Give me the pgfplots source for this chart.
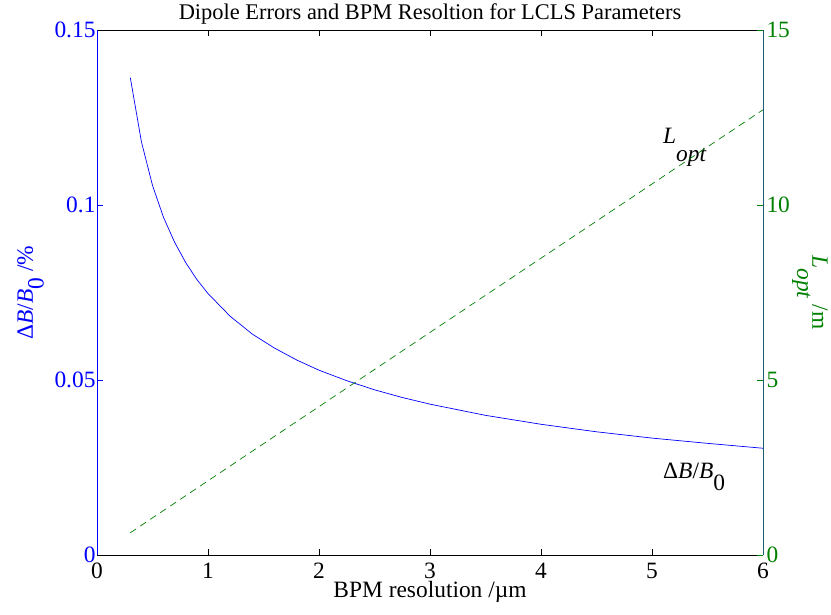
\documentclass[border=0pt]{standalone}
\usepackage{fontspec}
\setmainfont{Liberation Serif}
\usepackage{pgfplots}
\pgfplotsset{compat=1.18}

\definecolor{mblue}{rgb}{0,0,1}
\definecolor{mgreen}{rgb}{0,0.5,0}
\definecolor{mteal}{rgb}{0.1,0.37,0.45}

\newcommand{\dn}[2]{\raisebox{-#1}{#2}}
\newcommand{\fs}{\fontsize{23.5}{28}\selectfont}

\begin{document}
\begin{tikzpicture}
\path[use as bounding box] (-97bp,-60bp) rectangle (734bp,555bp);
\begin{axis}[
  scale only axis, width=666bp, height=525bp,
  xmin=0, xmax=6, ymin=0, ymax=0.15,
  separate axis lines,
  every outer x axis line/.append style={black, line width=0.8bp},
  every outer y axis line/.append style={mblue, line width=0.8bp},
  tick align=inside, major tick length=6bp,
  xtick={0,1,2,3,4,5,6}, xtick pos=both,
  xticklabels={0,1,2,3,4,5,6},
  ytick={0,0.05,0.1,0.15}, ytick pos=left,
  yticklabels={0,0.05,0.1,0.15},
  x tick style={black, line width=0.6bp},
  y tick style={mblue, line width=0.6bp},
  xticklabel style={font=\fs, anchor=base, yshift=-23bp},
  yticklabel style={font=\fs, text=mblue, xshift=2bp},
  /pgf/number format/assume math mode=true,
  xlabel={BPM resolution /µm},
  xlabel style={font=\fs, at={(axis description cs:0.5,-0.0819)}, anchor=base},
  ylabel={Δ\textit{B}/\textit{B}\dn{0.45em}{0} /\%},
  ylabel style={font=\fs, text=mblue, at={(axis description cs:-0.0961,0.5)}, anchor=base},
  title={Dipole Errors and BPM Resoltion for LCLS Parameters},
  title style={font=\fontsize{22.5}{27}\selectfont, at={(axis description cs:0.5,1)}, anchor=base, yshift=5bp},
  clip=false,
]
\addplot[mblue, line width=0.7bp] coordinates {
 (0.3,0.1364) (0.4,0.1181) (0.5,0.1056) (0.6,0.0964) (0.7,0.0893) (0.8,0.0835)
 (0.9,0.0787) (1.0,0.0747) (1.2,0.0682) (1.4,0.0631) (1.6,0.0591) (1.8,0.0557)
 (2.0,0.0528) (2.25,0.0498) (2.5,0.0472) (2.75,0.0450) (3.0,0.0431) (3.5,0.0399)
 (4.0,0.03735) (4.5,0.0352) (5.0,0.0334) (5.5,0.0319) (6.0,0.0305)
};
\node[anchor=base west, inner sep=0pt, font=\fs] at (axis cs:5.099,0.0220) {Δ\textit{B}/\textit{B}\dn{0.52em}{0}};
\node[anchor=base west, inner sep=0pt, font=\fs] at (axis cs:5.099,0.1177) {\textit{L}\dn{0.78em}{\textit{opt}}};
\end{axis}
\begin{axis}[
  scale only axis, width=666bp, height=525bp,
  xmin=0, xmax=6, ymin=0, ymax=15,
  axis x line=none,
  axis y line*=right,
  y axis line style={mteal, line width=0.8bp},
  tick align=inside, major tick length=6bp,
  ytick={0,5,10,15}, yticklabels={0,5,10,15},
  y tick style={mgreen, line width=0.6bp},
  yticklabel style={font=\fs, text=mgreen},
  /pgf/number format/assume math mode=true,
  ylabel={\textit{L}\dn{0.65em}{\textit{opt}} /m},
  ylabel style={font=\fs, text=mgreen, rotate=180, at={(axis description cs:1.074,0.5)}, anchor=base},
  clip=false,
]
\addplot[mgreen, line width=0.7bp, dash pattern=on 7bp off 5bp] coordinates {(0.3,0.636) (6,12.72)};
\end{axis}
\end{tikzpicture}
\end{document}
